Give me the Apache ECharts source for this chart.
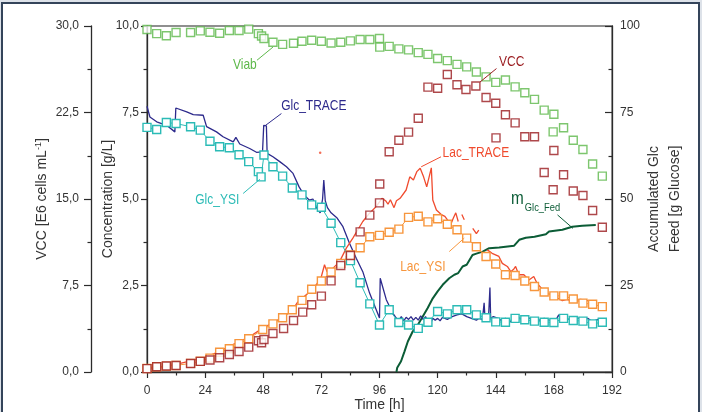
<!DOCTYPE html>
<html>
<head>
<meta charset="utf-8">
<script src="https://cdn.jsdelivr.net/npm/echarts@6/dist/echarts.min.js"></script>
<style>
html,body{margin:0;padding:0;background:#dde2e9;}
#wrap{position:relative;width:702px;height:412px;overflow:hidden;}
#frame{position:absolute;left:1px;top:2px;width:695px;height:440px;border:2px solid #34445a;background:#fff;}
#chart{position:absolute;left:0;top:0;width:702px;height:412px;}
</style>
</head>
<body>
<div id="wrap"><div id="frame"></div><div id="chart"></div></div>
<script>
// tick labels
var vccTicks = ['0,0', '7,5', '15,0', '22,5', '30,0'];
var concTicks = ['0,0', '2,5', '5,0', '7,5', '10,0'];
var feedTicks = ['0', '25', '50', '75', '100'];

// viability [%] (right axis)
var viab = [[0,99],[4,97.8],[8,97.2],[12,98.1],[18,98.1],[22,98.6],[26,98.2],[30,97.9],[34,98.7],[38,98.7],
  [42,99.1],[46,97.8],[47.3,97.1],[48.3,96.4],[52,95.3],[56,94.7],[60.5,95],[64,95.6],[68,95.9],[72,95.6],
  [76,95.1],[80,95.3],[84,95.7],[88,96.1],[92,96.1],[96,96.4],[96.1,93.9],[100,94.1],[104,93.4],[108,93.1],
  [112,92.3],[116,91.8],[120,90.6],[124,90],[128,88.9],[132,88.2],[136,86.7],[140,85.3],[144,83.7],[148,84.4],
  [152,82.4],[156,80.7],[160,78.8],[164,75.7],[168,74.5],[167.7,69.4],[172,70.6],[176,67],[180,64.3],[184,60.1],[188,56.6]];

// viable cell count [E6 cells/mL]
var vcc = [[0,0.29],[4,0.46],[8,0.52],[12,0.57],[18,0.74],[22,0.92],[26,1.04],[30,1.24],[34,1.52],[38,1.78],
  [42,2.16],[46,2.71],[47.3,2.54],[48.3,2.82],[52,3.34],[56.4,3.77],[60.5,4.47],[64.3,5.19],[68,5.83],[72,6.58],
  [76,7.9],[80,9.23],[84,10.1],[88,12.15],[92,13.6],[96,14.66],[96.1,16.3],[100,19.1],[104,20.1],[108,20.8],
  [112,22.0],[116,24.7],[120,24.6],[124,25.8],[128,24.9],[131.7,24.5],[135.8,24.8],[140,23.8],[144,23.3],[144.1,20.3],
  [148,22.3],[152,21.6],[156,20.4],[160,20.4],[164,17.3],[168,19.2],[167.7,15.8],[172,17.1],[176,15.7],[180,15.3],
  [184,14.0],[188,12.55]];

// glucose [g/L]
var glcTrace = [[0,7.68],[1.2,7.37],[4,7.23],[8.1,7.13],[11.5,6.94],[11.9,7.63],[16.4,7.52],[19.1,7.44],[23.2,7.42],
  [23.9,7.37],[24.6,7.09],[28.7,6.94],[31.4,6.8],[35.6,6.65],[36.7,6.78],[38.3,6.59],[42.4,6.46],[45.2,6.35],[47.7,6.36],
  [48.2,7.13],[49.3,7.11],[49.6,6.32],[52,6.22],[54.8,6.08],[57.6,5.93],[60.3,5.74],[62.8,5.35],[65,5.1],[67,4.97],
  [68.5,5.0],[70,4.75],[71.5,4.6],[72.5,5.0],[73,5.55],[73.6,4.95],[74.5,4.75],[76,4.6],[78.5,4.45],[80.9,4.2],
  [83.6,3.72],[86.4,3.29],[89.1,2.9],[91.9,2.28],[96,1.56],[96.3,2.71],[98.8,2.09],[101.5,1.7],[102.9,1.56],
  [104,1.5],[105,1.6],[106,1.48],[107,1.58],[108,1.52],[109,1.6],[110,1.5],[111,1.58],[112,1.5],[113,1.62],[114,1.52],
  [115,1.6],[116,1.45],[117,1.38],[118,1.55],[119,1.5],[120,1.55],[121,1.48],[122,1.58],[124,1.52],[126,1.6],[128,1.65],
  [130,1.68],[132,1.6],[134,1.55],[136,1.5],[137,1.55],[138.5,1.52],[139.2,2.0],[139.6,1.5],[141,1.55],[141.6,2.44],
  [141.9,1.55],[143,1.6],[145,1.55],[146,1.5],[148,1.55],[150,1.45],[151,1.52],[152,1.62],[154,1.55],[156,1.5],
  [158,1.56],[160,1.45],[162,1.5],[164,1.55],[166,1.5],[168,1.48],[169,1.52],[170,1.65],[171,1.52],[172,1.5],
  [174,1.53],[176,1.5],[178,1.56],[180,1.5],[182,1.55],[184,1.45],[186,1.52],[187.5,1.42]];

var glcYsi = [[0,7.07],[4,7.01],[8,7.21],[12,7.18],[18,7.09],[22,6.99],[26,6.67],[30,6.51],[34,6.48],[38,6.28],
  [42,6.08],[46,5.79],[47.1,5.64],[48.3,6.27],[52,5.93],[56,5.66],[60,5.32],[64,5.12],[68,4.83],[72,4.76],[76,4.3],
  [80,3.74],[84,3.22],[88,2.58],[92,1.97],[96,1.36],[100,1.8],[104,1.43],[108,1.36],[112,1.26],[116,1.44],[120,1.75],
  [124,1.68],[128,1.8],[132,1.8],[136,1.65],[140,1.57],[144,1.45],[148,1.44],[152,1.55],[156,1.51],[160,1.47],
  [164,1.44],[168,1.43],[172,1.55],[176,1.49],[180,1.47],[184,1.39],[188,1.44]];

// lactate [g/L]
var lacTrace = [[0,0.1],[6,0.15],[12,0.22],[18,0.32],[24,0.42],[30,0.6],[34,0.74],[38,0.88],[42,1.0],[47.8,1.27],
  [52,1.42],[56,1.58],[60,1.78],[62,2.0],[66,2.25],[69.9,2.52],[72,2.76],[73.3,3.1],[74.3,2.9],[75.4,2.9],[79.5,3.19],
  [82.3,3.58],[85,3.87],[89.1,4.35],[91.9,4.59],[94.6,4.78],[96,4.92],[97,5.02],[98.5,4.95],[99.5,4.85],[100.5,4.98],
  [102,4.75],[103,4.95],[104.5,5.02],[107,5.26],[108.5,5.64],[110,5.55],[111.4,5.79],[112.8,5.89],[114.2,5.64],
  [115.5,5.35],[117.4,5.9],[118,4.97],[119.5,4.68],[121.5,4.55],[123,4.5],[124.5,4.35],[125.5,4.28],[126.5,4.45],
  [127.5,4.6],[128.5,4.35],[129,null],[130,4.55],[131,4.4],[132,null],[134.5,4.15],[136,4.0],[137,4.1],[138,null],
  [140.5,3.53],[142.5,3.43],[145.3,3.34],[146.7,3.14],[148.8,3.05],[150.2,2.9],[151.5,2.98],[152.2,3.05],[153.5,2.81],
  [155.6,2.81],[157.7,2.66],[159.7,2.76],[161,2.57],[164,2.33],[166.7,2.23],[169.5,2.14],[171.5,2.06],[173.5,2.1],
  [175.7,2.04],[179,2.1],[182,2.06],[184,1.99]];
var lacTraceStray = [[71.5,6.34]];

var lacYsi = [[0,0.1],[4,0.15],[8,0.17],[12,0.19],[18,0.25],[22,0.31],[26,0.4],[30,0.57],[34,0.67],[38,0.82],
  [42,0.96],[47.8,1.23],[52,1.39],[56,1.57],[60,1.8],[64,2.07],[68,2.39],[72,2.63],[76,2.89],[80,3.14],[84,3.38],
  [88,3.59],[92,3.91],[96,3.95],[100,4.04],[104,4.13],[108,4.47],[112,4.5],[116,4.34],[120,4.43],[124,4.27],
  [128,4.11],[132,3.87],[136,3.62],[140,3.34],[144,3.12],[148,2.81],[152,2.79],[156,2.63],[160,2.47],[164,2.31],
  [168,2.2],[172,2.2],[176,2.11],[180,1.99],[184,1.96],[188,1.89]];

// accumulated glucose feed [g] (right axis)
var glcFed = [[103,0],[103.3,1.2],[104.9,3.1],[106.3,5.9],[107.7,8.8],[109.7,11.7],[111.8,13.6],[113.8,16],
  [115.9,18.5],[118,21.3],[120,23.3],[122.1,25.2],[124.8,27.1],[126.9,28.1],[128.5,28.6],[130.3,30.5],[132,31],
  [134.4,33.8],[136,34.2],[138.6,34.8],[141.3,35.8],[145.4,36],[151.6,36.5],[153.7,38.2],[156.4,38.8],[160,39.1],
  [164.7,39.8],[166,40.6],[171.5,41.1],[175.6,42],[179.7,42.3],[185.3,42.5]];

var C = {
  viab: '#5db84a', vcc: '#9a1a1e', glcT: '#2d2a8c', glcY: '#2bbbb6',
  lacT: '#f04b2e', lacY: '#f7963d', fed: '#0b5c36', axis: '#2b2b2b', text: '#333'
};

// annotation placements in data coordinates (time, concentration)
var notes = [
  {text: 'Viab', color: C.viab, at: [40.4, 8.87], from: [45.4, 9.01], to: [52, 9.39]},
  {text: 'Glc_TRACE', color: C.glcT, at: [68.9, 7.68], from: [55.5, 7.47], to: [48.6, 7.11]},
  {text: 'Glc_YSI', color: C.glcY, at: [29, 4.97], from: [39.7, 5.16], to: [46.6, 5.57]},
  {text: 'Lac_TRACE', color: C.lacT, at: [135.8, 6.34], from: [121.4, 6.22], to: [113.2, 5.93]},
  {text: 'Lac_YSI', color: C.lacY, at: [113.9, 3.05], from: [124.8, 3.48], to: [131, 3.87]},
  {text: 'VCC', color: C.vcc, at: [150.6, 8.96], from: [144.3, 8.77], to: [137.5, 8.38]},
  {text: 'm', sub: 'Glc_Fed', color: C.fed, at: [155.6, 5.0], from: [169.5, 4.54], to: [175.9, 4.15]}
];

function hollow(color) {
  return {color: '#fff', borderColor: color, borderWidth: 1.4};
}
var tickFont = {color: C.text, fontSize: 12, fontFamily: 'Liberation Sans'};
var nameFont = {color: C.text, fontSize: 14, fontFamily: 'Liberation Sans'};

var chart = echarts.init(document.getElementById('chart'), null, {renderer: 'canvas'});
chart.setOption({
  animation: false,
  backgroundColor: 'transparent',
  grid: {left: 147, right: 90, top: 26, bottom: 40, outerBoundsMode: 'none', containLabel: false,
    show: true, borderColor: '#6b6b6b', borderWidth: 1.3},
  xAxis: {
    type: 'value', min: 0, max: 192, interval: 24,
    name: 'Time [h]', nameLocation: 'middle', nameGap: 26, nameMoveOverlap: false, nameTextStyle: nameFont,
    axisLine: {lineStyle: {color: C.axis, width: 1.3}},
    axisTick: {length: 6, lineStyle: {color: C.axis, width: 1.2}},
    minorTick: {show: true, splitNumber: 2, length: 3.5, lineStyle: {color: C.axis, width: 1.2}},
    axisLabel: Object.assign({margin: 13}, tickFont),
    splitLine: {show: false}
  },
  yAxis: [
    {
      type: 'value', min: 0, max: 10, interval: 2.5, position: 'left',
      name: 'Concentration [g/L]', nameLocation: 'middle', nameRotate: 90, nameGap: 32, nameMoveOverlap: false,
      nameTextStyle: nameFont,
      axisLine: {show: true, lineStyle: {color: C.axis, width: 1.3}},
      axisTick: {length: 6, lineStyle: {color: C.axis, width: 1.2}},
      minorTick: {show: true, splitNumber: 2, length: 3.5, lineStyle: {color: C.axis, width: 1.2}},
      axisLabel: Object.assign({margin: 8, formatter: function (v) { return concTicks[Math.round(v / 2.5)]; }}, tickFont),
      splitLine: {show: false}
    },
    {
      type: 'value', min: 0, max: 30, interval: 7.5, position: 'left', offset: 56,
      name: 'VCC [E6 cells mL{sup|-1}]', nameLocation: 'middle', nameRotate: 90, nameGap: 41, nameMoveOverlap: false,
      nameTextStyle: Object.assign({rich: {sup: {fontSize: 9, fontFamily: 'Liberation Sans', color: C.text, verticalAlign: 'top', lineHeight: 16}}}, nameFont),
      axisLine: {show: true, lineStyle: {color: C.axis, width: 1.3}},
      axisTick: {length: 7, lineStyle: {color: C.axis, width: 1.2}},
      minorTick: {show: true, splitNumber: 2, length: 3.5, lineStyle: {color: C.axis, width: 1.2}},
      axisLabel: Object.assign({margin: 12, formatter: function (v) { return vccTicks[Math.round(v / 7.5)]; }}, tickFont),
      splitLine: {show: false}
    },
    {
      type: 'value', min: 0, max: 100, interval: 25, position: 'right',
      name: 'Accumulated Glc\nFeed [g Glucose]', nameLocation: 'middle', nameRotate: 90, nameGap: 32, nameMoveOverlap: false,
      nameTextStyle: Object.assign({lineHeight: 21}, nameFont),
      axisLine: {show: true, lineStyle: {color: C.axis, width: 1.3}},
      axisTick: {inside: true, length: 7, lineStyle: {color: C.axis, width: 1.2}},
      minorTick: {show: true, splitNumber: 2, length: 3.5, lineStyle: {color: C.axis, width: 1.2}},
      axisLabel: Object.assign({margin: 8, formatter: function (v) { return feedTicks[Math.round(v / 25)]; }}, tickFont),
      splitLine: {show: false}
    }
  ],
  series: [
    {name: 'm_Glc_Fed', type: 'line', yAxisIndex: 2, data: glcFed, showSymbol: false,
      lineStyle: {color: C.fed, width: 2}, z: 2},
    {name: 'Glc_TRACE', type: 'line', yAxisIndex: 0, data: glcTrace, showSymbol: false,
      lineStyle: {color: C.glcT, width: 1.3}, z: 2},
    {name: 'Lac_TRACE', type: 'line', yAxisIndex: 0, data: lacTrace, showSymbol: false, connectNulls: false,
      lineStyle: {color: C.lacT, width: 1.3}, z: 2},
    {name: 'Lac_TRACE_dot', type: 'scatter', yAxisIndex: 0, data: lacTraceStray, symbolSize: 2.5,
      itemStyle: {color: C.lacT}, z: 2},
    {name: 'Glc_YSI', type: 'line', yAxisIndex: 0, data: glcYsi, symbol: 'rect', symbolSize: 8,
      lineStyle: {color: C.glcY, width: 1}, itemStyle: hollow(C.glcY), z: 3},
    {name: 'Lac_YSI', type: 'line', yAxisIndex: 0, data: lacYsi, symbol: 'rect', symbolSize: 8,
      lineStyle: {color: C.lacY, width: 1}, itemStyle: hollow(C.lacY), z: 3},
    {name: 'VCC', type: 'scatter', yAxisIndex: 1, data: vcc, symbol: 'rect', symbolSize: 8,
      itemStyle: hollow(C.vcc), z: 4},
    {name: 'Viab', type: 'scatter', yAxisIndex: 2, data: viab, symbol: 'rect', symbolSize: 8,
      itemStyle: hollow(C.viab), z: 4}
  ]
});

// annotation texts and leader lines
function px(p) { return chart.convertToPixel({xAxisIndex: 0, yAxisIndex: 0}, p); }
var gfx = [];
notes.forEach(function (n) {
  var a = px(n.at), f = px(n.from), t = px(n.to);
  gfx.push({type: 'line', silent: true, z: 10,
    shape: {x1: f[0], y1: f[1], x2: t[0], y2: t[1]},
    style: {stroke: n.color, lineWidth: 1}});
  if (n.sub) {
    gfx.push({type: 'text', x: a[0], y: a[1], scaleX: 0.85, z: 10, silent: true,
      style: {text: n.text, fill: n.color, font: '18px "Liberation Sans"', align: 'right', verticalAlign: 'middle'}});
    gfx.push({type: 'text', x: a[0] + 1, y: a[1] + 9, scaleX: 0.85, z: 10, silent: true,
      style: {text: n.sub, fill: n.color, font: '11px "Liberation Sans"', align: 'left', verticalAlign: 'middle'}});
  } else {
    gfx.push({type: 'text', x: a[0], y: a[1], scaleX: 0.8, z: 10, silent: true,
      style: {text: n.text, fill: n.color, font: '15px "Liberation Sans"', align: 'center', verticalAlign: 'middle'}});
  }
});
chart.setOption({graphic: gfx});
</script>
</body>
</html>
